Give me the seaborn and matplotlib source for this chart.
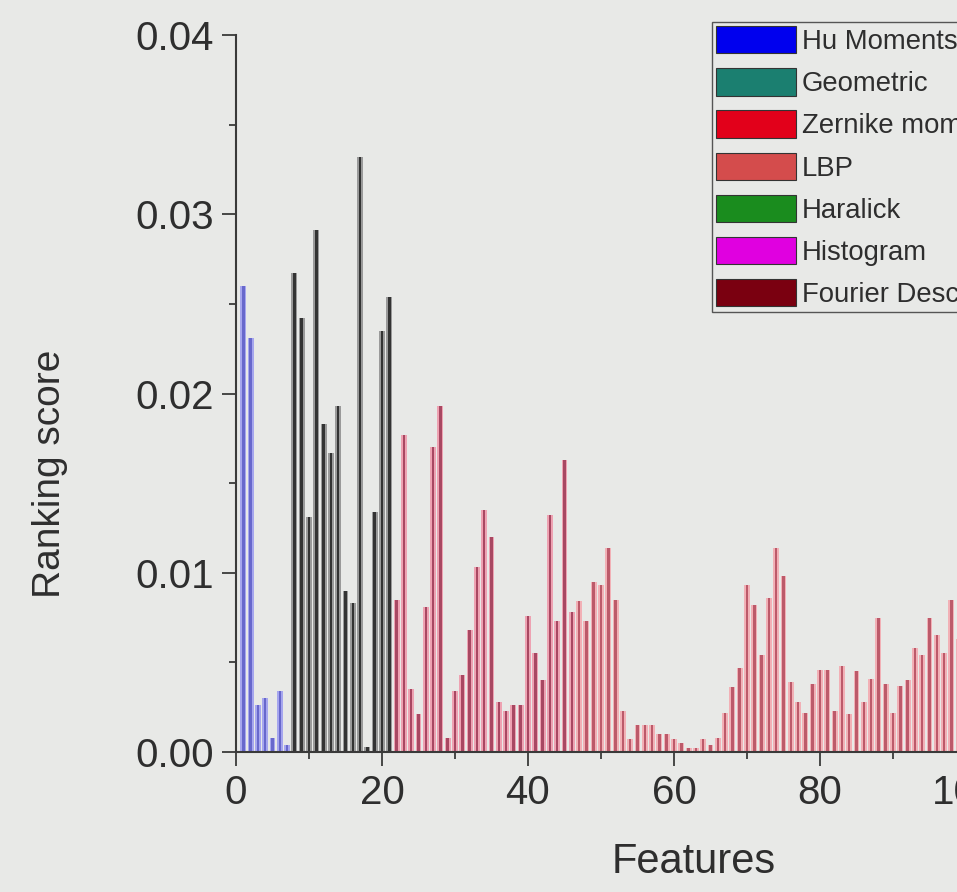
import numpy as np
import pandas as pd
import matplotlib
matplotlib.use("Agg")
import matplotlib.pyplot as plt
import seaborn as sns
from matplotlib.patches import Patch
from matplotlib.ticker import MultipleLocator

# ---------------- data ----------------
hu_scores = [0.0260, 0.0231, 0.0026, 0.0030, 0.0008, 0.0034, 0.0004]
geometric_scores = [0.0267, 0.0242, 0.0131, 0.0291, 0.0183, 0.0167, 0.0193,
                    0.0090, 0.0083, 0.0332, 0.0003, 0.0134, 0.0235, 0.0254]
zernike_scores = [0.0085, 0.0177, 0.0035, 0.0021, 0.0081, 0.0170, 0.0193,
                  0.0008, 0.0034, 0.0043, 0.0068, 0.0103, 0.0135, 0.0120,
                  0.0028, 0.0023, 0.0026, 0.0026, 0.0076, 0.0055, 0.0040,
                  0.0132, 0.0073, 0.0163, 0.0078]
lbp_scores = [0.0084, 0.0073, 0.0095, 0.0093, 0.0114, 0.0085, 0.0023, 0.0007, 0.0015, 0.0015,
              0.0015, 0.0010, 0.0010, 0.0007, 0.0005, 0.0002, 0.0002, 0.0007, 0.0004, 0.0008,
              0.0022, 0.0036, 0.0047, 0.0093, 0.0082, 0.0054, 0.0086, 0.0114, 0.0098, 0.0039,
              0.0028, 0.0022, 0.0038, 0.0046, 0.0046, 0.0023, 0.0048, 0.0021, 0.0045, 0.0028,
              0.0041, 0.0075, 0.0038, 0.0022, 0.0037, 0.0040, 0.0058, 0.0054, 0.0075, 0.0065,
              0.0055, 0.0085, 0.0063]

legend_labels = ["Hu Moments", "Geometric", "Zernike moments", "LBP",
                 "Haralick", "Histogram", "Fourier Descriptors"]
legend_colors = ["#0000ee", "#1b7f70", "#e2001a", "#d44c4c",
                 "#1a8c1e", "#e000e0", "#7a0010"]

x_label = "Features"
y_label = "Ranking score"

# ---------------- build table ----------------
scores = hu_scores + geometric_scores + zernike_scores + lbp_scores
groups = (["Hu Moments"] * len(hu_scores) + ["Geometric"] * len(geometric_scores)
          + ["Zernike moments"] * len(zernike_scores) + ["LBP"] * len(lbp_scores))
features = np.arange(1, len(scores) + 1)
df = pd.DataFrame({"feature": features, "score": scores, "group": groups})

light_palette = {"Hu Moments": "#a6a6ee", "Geometric": "#9a9a9a",
                 "Zernike moments": "#eea2b2", "LBP": "#f2b0b6"}
dark_palette = {"Hu Moments": "#6868cc", "Geometric": "#333333",
                "Zernike moments": "#a84862", "LBP": "#bc5a6a"}

# ---------------- style ----------------
sns.set_theme(style="ticks")
plt.rcParams["font.family"] = ["Liberation Sans", "DejaVu Sans"]
bg = "#e8e9e7"
txt = "#2e2e2e"

fig = plt.figure(figsize=(9.57, 8.92), dpi=100, facecolor=bg)
ax = fig.add_axes([236 / 957, 140 / 892, 876 / 957, 717 / 892])
ax.set_facecolor(bg)

sns.barplot(data=df, x="feature", y="score", hue="group", palette=light_palette,
            native_scale=True, dodge=False, width=0.8, saturation=1,
            errorbar=None, legend=False, linewidth=0, ax=ax)
sns.barplot(data=df, x="feature", y="score", hue="group", palette=dark_palette,
            native_scale=True, dodge=False, width=0.35, saturation=1,
            errorbar=None, legend=False, linewidth=0, ax=ax)

ax.set_xlim(0, 120)
ax.set_ylim(0, 0.04)
ax.xaxis.set_major_locator(MultipleLocator(20))
ax.xaxis.set_minor_locator(MultipleLocator(10))
ax.yaxis.set_major_locator(MultipleLocator(0.01))
ax.yaxis.set_minor_locator(MultipleLocator(0.005))
ax.yaxis.set_major_formatter(matplotlib.ticker.FormatStrFormatter("%.2f"))

for s in ["top", "right"]:
    ax.spines[s].set_visible(False)
for s in ["left", "bottom"]:
    ax.spines[s].set_color("#3a3a3a")
    ax.spines[s].set_linewidth(1.5)

ax.tick_params(axis="both", which="major", length=10, width=1.3, labelsize=29,
               pad=6, color="#3a3a3a", labelcolor=txt, direction="out")
ax.tick_params(axis="both", which="minor", length=5, width=1.3,
               color="#3a3a3a", direction="out")
ax.tick_params(axis="x", top=False)
ax.tick_params(axis="y", right=False)

ax.set_xlabel(x_label, fontsize=30, color=txt, va="center")
ax.xaxis.set_label_coords((694 - 236) / 876, (752 - 862) / 717)
ax.set_ylabel(y_label, fontsize=28, color=txt, va="center")
ax.yaxis.set_label_coords((50 - 236) / 876, (752 - 474) / 717)

handles = [Patch(facecolor=c, edgecolor="#333333", linewidth=0.8) for c in legend_colors]
fig.legend(handles, legend_labels, loc="upper left",
           bbox_to_anchor=(712 / 957, 1 - 22 / 892), bbox_transform=fig.transFigure,
           fontsize=19.8, frameon=True, fancybox=False, edgecolor="#555555",
           facecolor=bg, framealpha=1, handlelength=2.9, handleheight=1.15,
           handletextpad=0.22, labelspacing=0.48, borderpad=0.15, borderaxespad=0,
           labelcolor=txt)

fig.savefig("out.png", dpi=100, facecolor=bg)
